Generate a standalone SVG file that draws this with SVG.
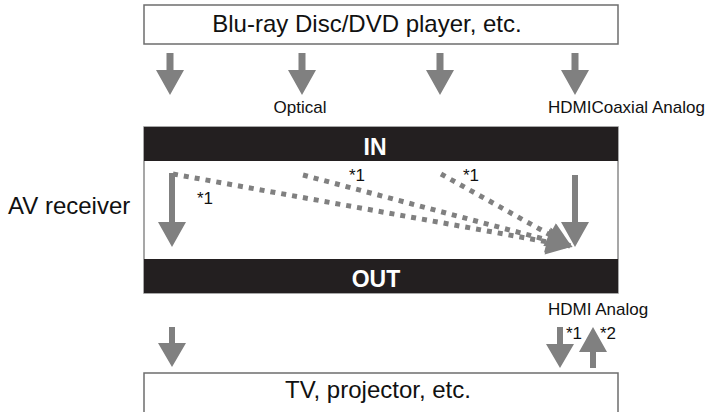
<svg xmlns="http://www.w3.org/2000/svg" width="715" height="412" viewBox="0 0 715 412">
<style>
.box{fill:#fff;stroke:#6d6d6d;stroke-width:1.5}
.bar{fill:#231f20}
.arr{fill:#808080}
.dot{fill:none;stroke:#808080;stroke-width:5;stroke-dasharray:5 6}
.t{font-family:"Liberation Sans",Arial,sans-serif;fill:#111}
.big{font-size:24px}
.sm{font-size:17px}
.bar-t{font-family:"Liberation Sans",Arial,sans-serif;font-weight:bold;font-size:23px;fill:#fff}
</style>
<defs>
<marker id="ah" viewBox="0 0 10 10" refX="9" refY="5" markerUnits="userSpaceOnUse" markerWidth="28" markerHeight="26" orient="auto">
<path d="M0,0 L10,5 L0,10 Z" fill="#808080"/>
</marker>
</defs>
<g id="player">
<rect class="box" x="144" y="5" width="474" height="39"/>
<text class="t big" x="367" y="32" text-anchor="middle">Blu-ray Disc/DVD player, etc.</text>
</g>
<g id="receiver">
<rect x="144" y="127" width="474" height="166" fill="#fff" stroke="#8a8a8a" stroke-width="1.5"/>
<rect class="bar" x="144" y="127" width="474" height="34"/>
<rect class="bar" x="144" y="259" width="474" height="34"/>
<text class="bar-t" x="375" y="155" text-anchor="middle">IN</text>
<text class="bar-t" x="376" y="287" text-anchor="middle">OUT</text>
</g>
<g id="receiver-label">
<text class="t big" x="8" y="214">AV receiver</text>
</g>
<g id="tv">
<path class="box" d="M144,413 V373 H618 V413"/>
<text class="t big" x="378" y="398" text-anchor="middle">TV, projector, etc.</text>
</g>
<g id="connectors">
<path class="arr" d="M166.5,53 H173.5 V70 H184 L170,95 L156,70 H166.5 Z"/>
<path class="arr" d="M298.5,53 H305.5 V70 H316 L302,95 L288,70 H298.5 Z"/>
<path class="arr" d="M436.5,53 H443.5 V70 H454 L440,95 L426,70 H436.5 Z"/>
<path class="arr" d="M571.5,53 H578.5 V70 H589 L575,95 L561,70 H571.5 Z"/>
<path class="arr" d="M169,173 H175 V222 H186 L172,247 L158,222 H169 Z"/>
<path class="arr" d="M572,175 H578 V222 H589 L575,247 L561,222 H572 Z"/>
<path class="dot" d="M173,174 L570,246" marker-end="url(#ah)"/>
<path class="dot" d="M303,175 L570,246" marker-end="url(#ah)"/>
<path class="dot" d="M441,174 L570,246" marker-end="url(#ah)"/>
<path class="arr" d="M169,327 H175 V343 H186 L172,367 L158,343 H169 Z"/>
<path class="arr" d="M557,327 H563 V344 H574 L560,368 L546,344 H557 Z"/>
<path class="arr" d="M590,368 H596 V352 H607 L593,327 L579,352 H590 Z"/>
</g>
<g id="labels">
<text class="t sm" x="300" y="113" text-anchor="middle">Optical</text>
<text class="t sm" x="548" y="113">HDMICoaxial Analog</text>
<text class="t sm" x="548" y="315">HDMI Analog</text>
<text class="t sm" x="197" y="204">*1</text>
<text class="t sm" x="349" y="181">*1</text>
<text class="t sm" x="463" y="181">*1</text>
<text class="t sm" x="566" y="339">*1</text>
<text class="t sm" x="600" y="339">*2</text>
</g>
</svg>
